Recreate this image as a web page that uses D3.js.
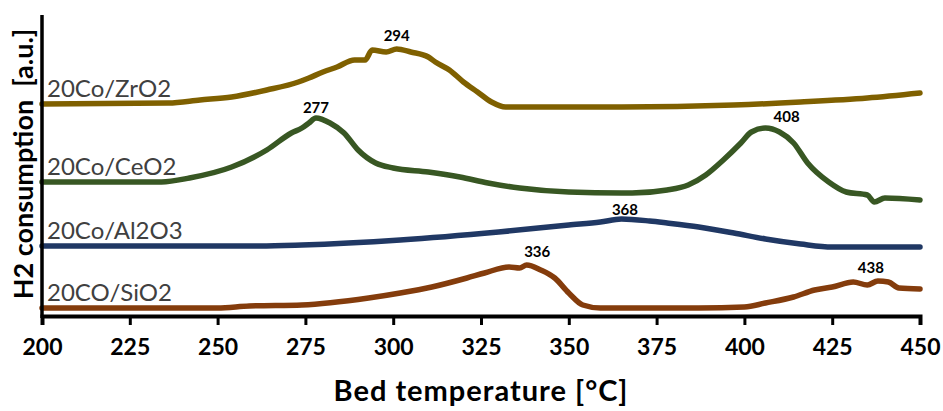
<!DOCTYPE html>
<html lang="en">

<head>
    <meta charset="UTF-8">
    <script type="text/javascript" src="https://d3js.org/d3.v7.min.js"></script>
    <title>TPR profiles</title>
    <style>
        body { margin: 0; background: #fff; }
        .series { fill: none; stroke-width: 5.5px; stroke-linejoin: round; stroke-linecap: round; }
        text { font-family: Lato, "Open Sans", sans-serif; }
    </style>
</head>

<body>
    <script>
        // Data: [bed temperature (°C), signal (a.u., profiles stacked)]
        var zro2 = [[200, 212], [236, 213], [245, 216], [254, 219], [264, 226], [273, 234], [276, 238],
            [280, 244], [284, 249], [289, 256], [292, 256], [294, 266], [298, 264], [301, 267], [305, 264],
            [310, 259], [312, 254], [316, 246], [320, 234], [324, 224], [328, 214], [332, 209], [340, 209],
            [365, 209], [397, 211], [416, 214], [435, 218], [450, 223]];
        var ceo2 = [[200, 134], [234, 134], [242, 138], [254, 149], [264, 166], [271, 183], [274, 188],
            [276, 193], [278, 198], [282, 193], [286, 183], [290, 166], [295, 153], [300, 148], [310, 144],
            [319, 139], [327, 133], [336, 128], [350, 124], [365, 123], [368, 123], [378, 126], [384, 131],
            [389, 141], [394, 156], [399, 173], [402, 184], [406, 188], [410, 184], [414, 173], [418, 153],
            [424, 134], [429, 124], [435, 121], [437, 114], [440, 118], [450, 116]];
        var al2o3 = [[200, 70], [240, 70], [262, 70], [274, 71], [302, 76], [330, 84], [350, 91], [359, 94],
            [365, 97], [373, 95], [378, 93], [387, 89], [397, 83], [406, 77], [416, 72], [425, 69], [450, 69]];
        var sio2 = [[200, 8], [250, 8], [259, 10], [274, 11], [293, 18], [302, 23], [311, 29], [321, 38],
            [326, 43], [333, 49], [336, 48], [338, 51], [342, 46], [346, 38], [350, 23], [354, 11], [359, 8],
            [387, 8], [400, 9], [406, 13], [414, 19], [420, 26], [425, 29], [431, 34], [435, 31], [438, 35],
            [441, 34], [444, 28], [450, 27]];

        var seriesNames = ["20Co/ZrO2", "20Co/CeO2", "20Co/Al2O3", "20CO/SiO2"];
        var seriesData = [zro2, ceo2, al2o3, sio2];
        var seriesColors = ["#7f6000", "#385723", "#203864", "#843c0c"];

        // peak annotations: label, and where its text sits (°C, a.u.)
        var peakLabels = ["294", "277", "408", "368", "336", "438"];
        var peakAt = [[301, 275], [278, 203], [412, 194], [366, 101], [341, 59], [436, 43]];

        var xTicks = [200, 225, 250, 275, 300, 325, 350, 375, 400, 425, 450];

        var width = 943, height = 411;
        var margin = { top: 16, right: 23, bottom: 95, left: 42 };

        var x = d3.scaleLinear().domain([200, 450]).range([margin.left, width - margin.right]);
        var y = d3.scaleLinear().domain([0, 300]).range([height - margin.bottom, margin.top]);

        var svg = d3.select("body").append("svg")
            .attr("width", width)
            .attr("height", height);

        var line = d3.line()
            .x(function (d) { return x(d[0]); })
            .y(function (d) { return y(d[1]); })
            .curve(d3.curveMonotoneX);

        // profiles
        svg.selectAll(".series")
            .data(seriesData)
            .enter().append("path")
            .attr("class", "series")
            .attr("stroke", function (d, i) { return seriesColors[i]; })
            .attr("d", line);

        // series names above the start of each line
        svg.selectAll(".name")
            .data(seriesNames)
            .enter().append("text")
            .attr("class", "name")
            .attr("x", margin.left + 5)
            .attr("y", function (d, i) { return y(seriesData[i][0][1]) - 7; })
            .attr("fill", "#404040")
            .attr("font-size", "24px")
            .text(function (d) { return d; });

        // peak temperatures
        svg.selectAll(".peak")
            .data(peakLabels)
            .enter().append("text")
            .attr("class", "peak")
            .attr("x", function (d, i) { return x(peakAt[i][0]); })
            .attr("y", function (d, i) { return y(peakAt[i][1]); })
            .attr("text-anchor", "middle")
            .attr("font-size", "15px")
            .attr("font-weight", "bold")
            .text(function (d) { return d; });

        // X axis
        var xAxis = svg.append("g")
            .attr("transform", "translate(0," + y(0) + ")")
            .call(d3.axisBottom(x).tickValues(xTicks).tickSize(9).tickPadding(14).tickFormat(d3.format("d")));
        xAxis.select(".domain").attr("stroke", "#000").attr("stroke-width", 4);
        xAxis.selectAll(".tick line").attr("stroke", "#000").attr("stroke-width", 3);
        xAxis.selectAll(".tick text")
            .attr("font-family", "Lato, sans-serif")
            .attr("font-size", "23px")
            .attr("font-weight", "bold")
            .attr("fill", "#000");

        // Y axis (line only)
        svg.append("line")
            .attr("x1", x(200)).attr("x2", x(200))
            .attr("y1", y(300) - 1).attr("y2", y(0) + 2)
            .attr("stroke", "#000")
            .attr("stroke-width", 3.5);

        // axis titles
        svg.append("text")
            .attr("x", (x(200) + x(450)) / 2)
            .attr("y", 401)
            .attr("text-anchor", "middle")
            .attr("font-size", "29px")
            .attr("font-weight", "bold")
            .attr("letter-spacing", "1px")
            .text("Bed temperature [°C]");

        svg.append("text")
            .attr("transform", "translate(33," + 164 + ") rotate(-90)")
            .attr("text-anchor", "middle")
            .attr("font-size", "27px")
            .attr("font-weight", "bold")
            .attr("xml:space", "preserve")
            .style("white-space", "pre")
            .text("H2 consumption  [a.u.]");
    </script>
</body>

</html>
